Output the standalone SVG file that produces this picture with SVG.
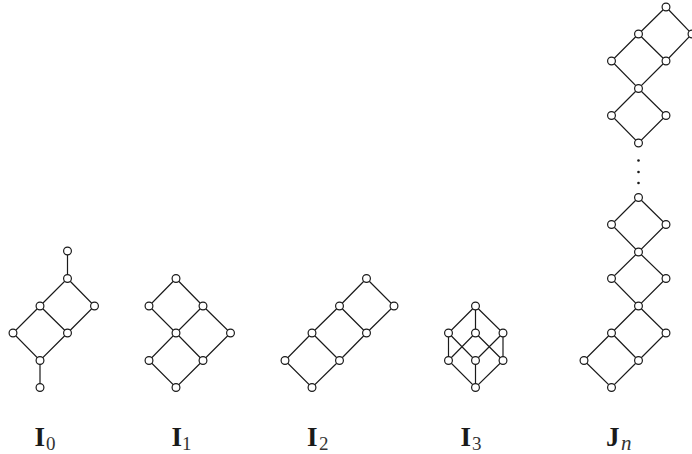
<svg xmlns="http://www.w3.org/2000/svg" width="692" height="454" viewBox="0 0 692 454">
<style>
.e{stroke:#1a1a1a;stroke-width:1.2;fill:none}
.n{fill:#fff;stroke:#1a1a1a;stroke-width:1.2}
.l{font-family:"Liberation Serif",serif;font-weight:bold;font-size:27px;fill:#1a1a1a}
.s{font-family:"Liberation Serif",serif;font-size:19px;fill:#333}
.i{font-style:italic;font-size:21px}
</style>
<defs><circle id="c" class="n" r="3.9"/></defs>
<rect width="692" height="454" fill="#fff"/>
<g id="connectors" class="e">
<path d="M67.5 251V278.5L40 306L13 333L40 360.5L67.5 333L94.5 306L67.5 278.5M40 306L67.5 333M40 360.5V387.5"/>
<path d="M176 278.5L149 306L176 333L149 360.5L176 387.5L203 360.5L230.5 333L203 306L176 278.5M203 306L176 333L203 360.5"/>
<path d="M366.5 278.5L339.5 306L312 333L285 360.5L312 387.5L339.5 360.5L366.5 333L394 306L366.5 278.5M339.5 306L366.5 333M312 333L339.5 360.5"/>
<path d="M475.5 306L448.5 333V360.5L475.5 387.5L503 360.5V333L475.5 306V333L448.5 360.5M475.5 333L503 360.5M448.5 333L475.5 360.5V387.5M503 333L475.5 360.5"/>
<path d="M666 7L638.5 34L611.5 61L638.5 88.5L666 61L692 34L666 7M638.5 34L666 61M638.5 88.5L611.5 115.5L638.5 143L666 115.5L638.5 88.5"/>
<path d="M638.5 197.5L611.5 224.5L638.5 252L666 224.5L638.5 197.5M638.5 252L611.5 278.5L638.5 306L666 278.5L638.5 252M638.5 306L611.5 333L584 360.5L611.5 387.5L638.5 360.5L666 333L638.5 306M611.5 333L638.5 360.5"/>
</g>
<g fill="#1a1a1a" id="dots"><circle cx="638.5" cy="160.5" r="1.3"/><circle cx="638.5" cy="172" r="1.3"/><circle cx="638.5" cy="183" r="1.3"/></g>
<g id="I0"><use href="#c" x="67.5" y="251"/><use href="#c" x="67.5" y="278.5"/><use href="#c" x="40" y="306"/><use href="#c" x="94.5" y="306"/><use href="#c" x="13" y="333"/><use href="#c" x="67.5" y="333"/><use href="#c" x="40" y="360.5"/><use href="#c" x="40" y="387.5"/>
<text class="l" x="34.5" y="445.5">I</text><text class="s" x="46" y="450">0</text></g>
<g id="I1"><use href="#c" x="176" y="278.5"/><use href="#c" x="149" y="306"/><use href="#c" x="203" y="306"/><use href="#c" x="176" y="333"/><use href="#c" x="230.5" y="333"/><use href="#c" x="149" y="360.5"/><use href="#c" x="203" y="360.5"/><use href="#c" x="176" y="387.5"/>
<text class="l" x="171.5" y="445.5">I</text><text class="s" x="182" y="450">1</text></g>
<g id="I2"><use href="#c" x="366.5" y="278.5"/><use href="#c" x="339.5" y="306"/><use href="#c" x="394" y="306"/><use href="#c" x="312" y="333"/><use href="#c" x="366.5" y="333"/><use href="#c" x="285" y="360.5"/><use href="#c" x="339.5" y="360.5"/><use href="#c" x="312" y="387.5"/>
<text class="l" x="307" y="445.5">I</text><text class="s" x="319" y="450">2</text></g>
<g id="I3"><use href="#c" x="475.5" y="306"/><use href="#c" x="448.5" y="333"/><use href="#c" x="475.5" y="333"/><use href="#c" x="503" y="333"/><use href="#c" x="448.5" y="360.5"/><use href="#c" x="475.5" y="360.5"/><use href="#c" x="503" y="360.5"/><use href="#c" x="475.5" y="387.5"/>
<text class="l" x="460.5" y="445.5">I</text><text class="s" x="472" y="450">3</text></g>
<g id="Jn"><use href="#c" x="666" y="7"/><use href="#c" x="638.5" y="34"/><use href="#c" x="692" y="34"/><use href="#c" x="611.5" y="61"/><use href="#c" x="666" y="61"/><use href="#c" x="638.5" y="88.5"/><use href="#c" x="611.5" y="115.5"/><use href="#c" x="666" y="115.5"/><use href="#c" x="638.5" y="143"/><use href="#c" x="638.5" y="197.5"/><use href="#c" x="611.5" y="224.5"/><use href="#c" x="666" y="224.5"/><use href="#c" x="638.5" y="252"/><use href="#c" x="611.5" y="278.5"/><use href="#c" x="666" y="278.5"/><use href="#c" x="638.5" y="306"/><use href="#c" x="611.5" y="333"/><use href="#c" x="666" y="333"/><use href="#c" x="584" y="360.5"/><use href="#c" x="638.5" y="360.5"/><use href="#c" x="611.5" y="387.5"/>
<text class="l" x="606" y="445.5">J</text><text class="s i" x="621" y="450">n</text></g>
</svg>
